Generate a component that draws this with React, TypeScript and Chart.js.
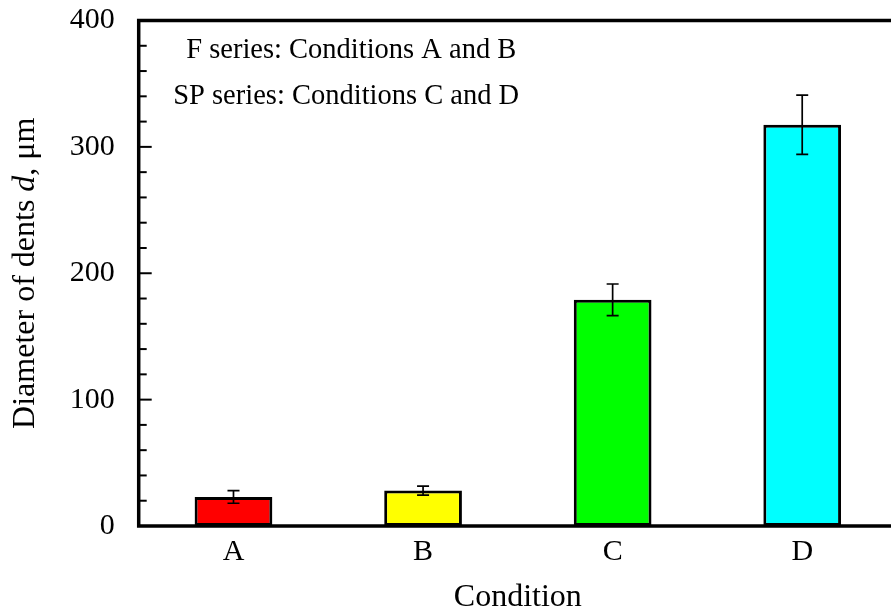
import React, { useEffect, useRef } from "react";
import { Chart, registerables } from "chart.js";

Chart.register(...registerables);

const categories = ["A", "B", "C", "D"];
const meanDiameters = [23, 28, 179, 317.5];
const errorHalfWidths = [5, 3.5, 12.5, 23.5];
const barColors = ["#ff0000", "#ffff00", "#00ff00", "#00ffff"];
const yTickValues = [0, 100, 200, 300, 400];
const noteLines = ["F series: Conditions A and B", "SP series: Conditions C and D"];

const FONT = "'Liberation Serif', 'Times New Roman', serif";

const decorPlugin = {
  id: "decor",
  afterDatasetsDraw(chart: any) {
    const ctx = chart.ctx;
    const y = chart.scales.y;
    const meta = chart.getDatasetMeta(0);
    ctx.save();
    ctx.strokeStyle = "#000";
    ctx.lineWidth = 1.7;
    meta.data.forEach((bar: any, i: number) => {
      const cx = bar.x;
      const top = y.getPixelForValue(meanDiameters[i] + errorHalfWidths[i]);
      const bot = y.getPixelForValue(meanDiameters[i] - errorHalfWidths[i]);
      const cap = 6;
      ctx.beginPath();
      ctx.moveTo(cx, top);
      ctx.lineTo(cx, bot);
      ctx.moveTo(cx - cap, top);
      ctx.lineTo(cx + cap, top);
      ctx.moveTo(cx - cap, bot);
      ctx.lineTo(cx + cap, bot);
      ctx.stroke();
    });
    ctx.restore();
  },
  afterDraw(chart: any) {
    const ctx = chart.ctx;
    const { left, right, top, bottom } = chart.chartArea;
    const y = chart.scales.y;
    ctx.save();
    // frame
    ctx.strokeStyle = "#000";
    ctx.lineWidth = 3.5;
    ctx.strokeRect(left, top, right - left, bottom - top);
    // inward ticks
    ctx.lineWidth = 2;
    for (let v = 0; v <= 400; v += 20) {
      const py = y.getPixelForValue(v);
      const len = v % 100 === 0 ? 13 : 8;
      ctx.beginPath();
      ctx.moveTo(left, py);
      ctx.lineTo(left + len, py);
      ctx.stroke();
    }
    // notes
    ctx.fillStyle = "#000";
    ctx.font = `28.5px ${FONT}`;
    ctx.textBaseline = "alphabetic";
    ctx.textAlign = "left";
    ctx.fillText(noteLines[0], left + 47.5, top + 37);
    ctx.fillText(noteLines[1], left + 34.5, top + 83);
    // x title
    ctx.font = `32px ${FONT}`;
    ctx.textAlign = "center";
    ctx.fillText("Condition", (left + right) / 2, 606);
    // y title with italic d
    const parts: [string, boolean][] = [
      ["Diameter of dents ", false],
      ["d", true],
      [", \u03bcm", false],
    ];
    const fontFor = (it: boolean) => `${it ? "italic " : ""}32px ${FONT}`;
    let total = 0;
    const widths = parts.map(([t, it]) => {
      ctx.font = fontFor(it);
      const w = ctx.measureText(t).width;
      total += w;
      return w;
    });
    ctx.translate(34, (top + bottom) / 2);
    ctx.rotate(-Math.PI / 2);
    ctx.textAlign = "left";
    let x = -total / 2;
    parts.forEach(([t, it], i) => {
      ctx.font = fontFor(it);
      ctx.fillText(t, x, 0);
      x += widths[i];
    });
    ctx.restore();
  },
};

export default function App() {
  const canvasRef = useRef<HTMLCanvasElement | null>(null);

  useEffect(() => {
    if (!canvasRef.current) return;
    const chart = new Chart(canvasRef.current, {
      type: "bar",
      data: {
        labels: categories,
        datasets: [
          {
            data: meanDiameters,
            backgroundColor: barColors,
            borderColor: "#000",
            borderWidth: 3,
            borderSkipped: false,
            barPercentage: 0.41,
            categoryPercentage: 1,
          },
        ],
      },
      options: {
        responsive: false,
        animation: false,
        layout: { padding: { left: 0, top: 20.5, right: 13, bottom: 0 } },
        plugins: { legend: { display: false }, tooltip: { enabled: false } },
        scales: {
          x: {
            grid: { display: false, drawTicks: false },
            border: { display: false },
            ticks: { color: "#000", font: { family: FONT, size: 30 }, padding: 8 },
            afterFit: (s: any) => {
              s.height = 86;
              s.paddingLeft = 0;
              s.paddingRight = 0;
            },
          },
          y: {
            min: 0,
            max: 400,
            afterBuildTicks: (s: any) => {
              s.ticks = yTickValues.map((v) => ({ value: v }));
            },
            grid: { display: false, drawTicks: false },
            border: { display: false },
            ticks: { color: "#000", font: { family: FONT, size: 30 }, padding: 24 },
            afterFit: (s: any) => {
              s.width = 138.7;
              s.paddingTop = 0;
              s.paddingBottom = 0;
            },
          },
        },
      },
      plugins: [decorPlugin],
    });
    return () => chart.destroy();
  }, []);

  return (
    <div
      style={{
        position: "fixed",
        left: 0,
        top: 0,
        width: 891,
        height: 612,
        overflow: "hidden",
        background: "#fff",
      }}
    >
      <canvas ref={canvasRef} width={910} height={612} style={{ display: "block" }} />
    </div>
  );
}
